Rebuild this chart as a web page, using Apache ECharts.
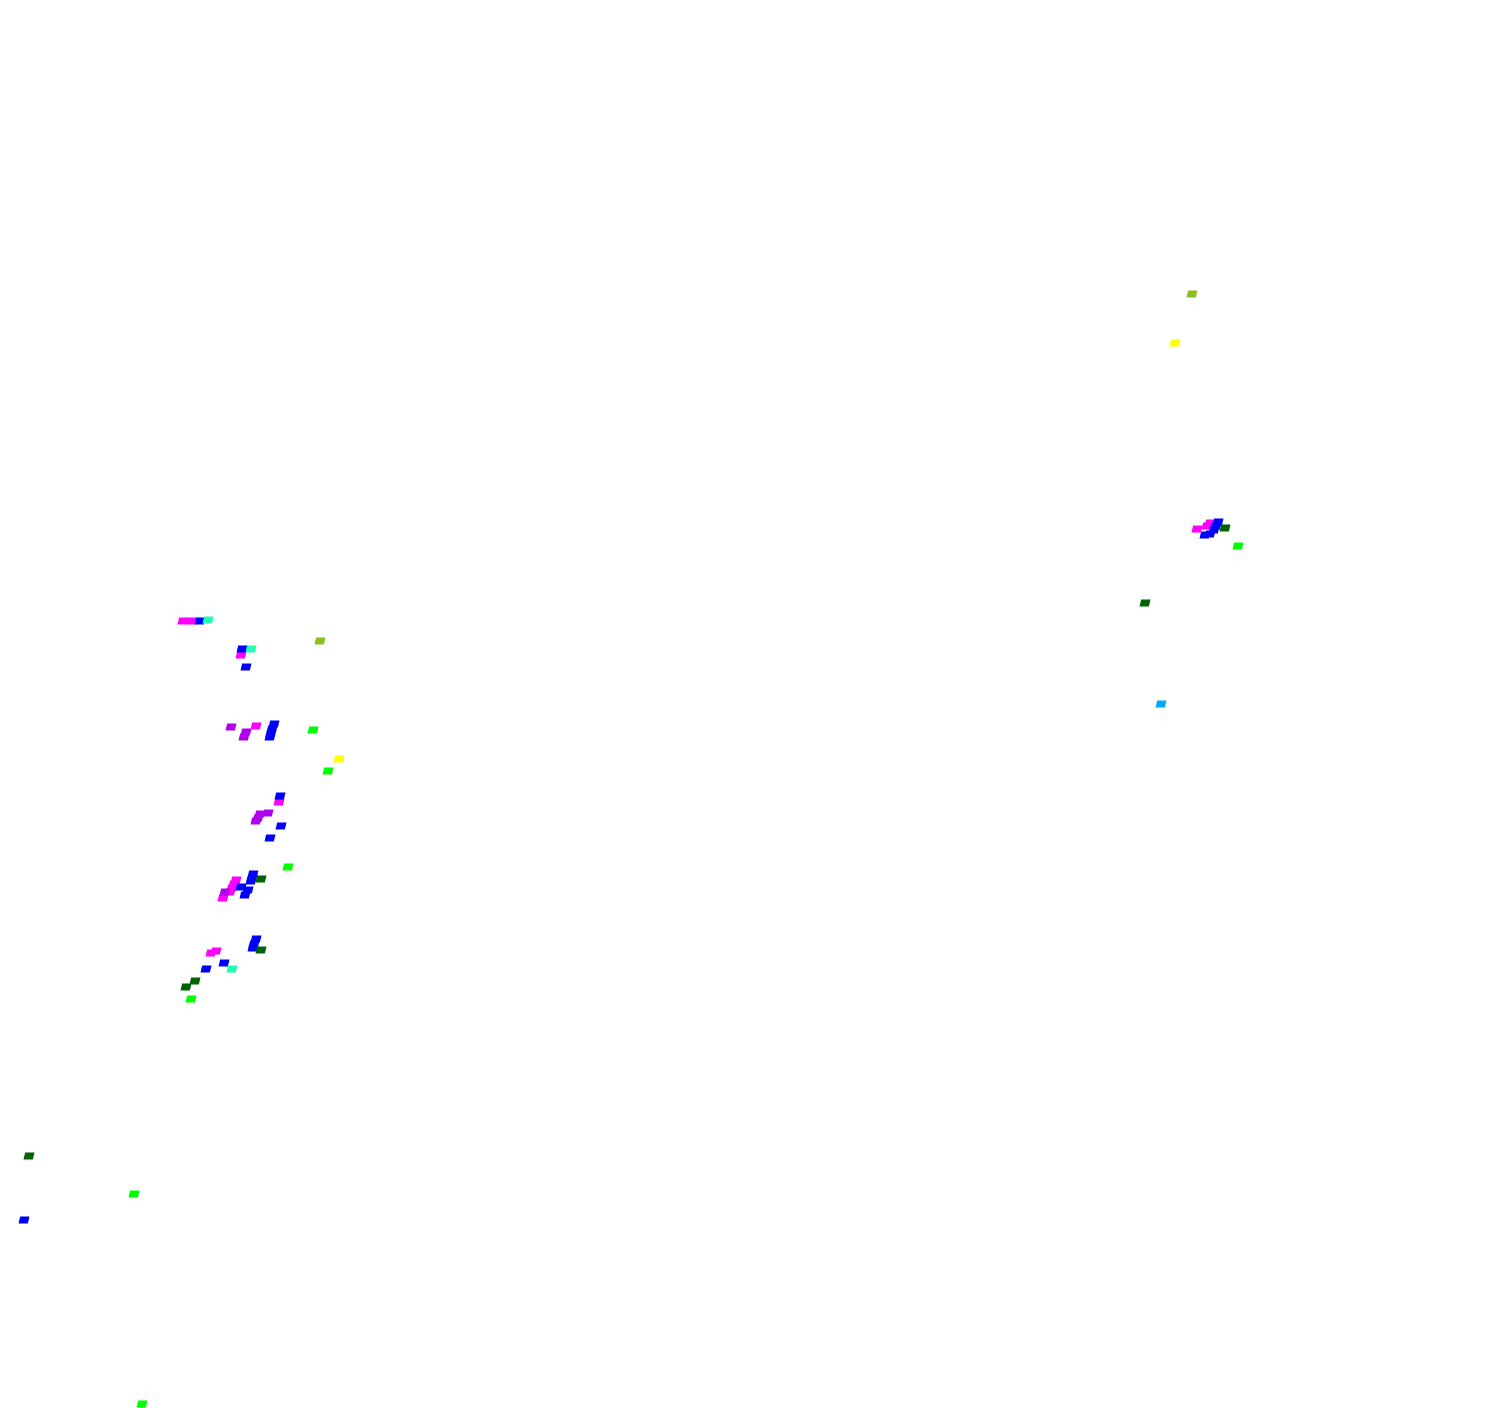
<!DOCTYPE html>
<html>
<head>
<meta charset="utf-8">
<title>Scatter</title>
<script src="https://cdn.jsdelivr.net/npm/echarts@6/dist/echarts.min.js"></script>
<style>
  html, body { margin: 0; padding: 0; background: #ffffff; }
  #chart { width: 1500px; height: 1408px; }
</style>
</head>
<body>
<div id="chart"></div>
<script>
// Point positions, [x, y] in plot units (y grows downwards)
const magentaPoints = [
  [183, 621], [192, 621], [241, 655], [256, 726], [279, 802],
  [236, 880], [234, 884], [232, 888], [230, 892], [223, 898],
  [216, 951], [211, 953],
  [1210, 523], [1207, 526], [1197, 529]
];
const purplePoints = [
  [231, 727], [246, 732], [244, 737],
  [268, 813], [260, 814], [258, 818], [256, 821],
  [225, 892]
];
const bluePoints = [
  [200, 621], [242, 649], [246, 667],
  [274, 724], [272, 729], [271, 733], [270, 737],
  [280, 796], [281, 826], [270, 838],
  [253, 874], [252, 878], [251, 881],
  [241, 887], [248, 890], [245, 895],
  [256, 939], [254, 944], [253, 948],
  [224, 963], [206, 969], [24, 1220],
  [1218, 522], [1216, 526], [1214, 530], [1210, 534], [1205, 535]
];
const darkGreenPoints = [
  [261, 879], [261, 950], [195, 981], [186, 987],
  [29, 1156], [1225, 528], [1145, 603]
];
const aquaPoints = [[208, 620], [251, 649], [232, 969]];
const limePoints = [
  [313, 730], [328, 771], [288, 867], [191, 999],
  [134, 1194], [142, 1404], [1238, 546]
];
const yellowPoints = [[339, 759], [1175, 343]];
const yellowGreenPoints = [[320, 641], [1192, 294]];
const skyBluePoints = [[1161, 704]];

const markShape = 'path://M1.5,0 L10,0 L8.5,6 L0,6 Z';

function makeSeries(name, data, color) {
  return {
    name: name,
    type: 'scatter',
    data: data,
    symbol: markShape,
    symbolSize: [11, 7],
    itemStyle: { color: color, opacity: 1 },
    emphasis: { disabled: true },
    animation: false
  };
}

const chart = echarts.init(document.getElementById('chart'));

chart.setOption({
  backgroundColor: '#ffffff',
  animation: false,
  grid: { left: 0, right: 0, top: 0, bottom: 0 },
  xAxis: { type: 'value', min: 0, max: 1500, show: false },
  yAxis: { type: 'value', min: 0, max: 1408, inverse: true, show: false },
  series: [
    makeSeries('magenta', magentaPoints, '#ff00ff'),
    makeSeries('purple', purplePoints, '#b000ee'),
    makeSeries('blue', bluePoints, '#0000ff'),
    makeSeries('darkgreen', darkGreenPoints, '#006400'),
    makeSeries('aquamarine', aquaPoints, '#20ffb0'),
    makeSeries('lime', limePoints, '#00ff00'),
    makeSeries('yellow', yellowPoints, '#ffff00'),
    makeSeries('yellowgreen', yellowGreenPoints, '#8fbf1f'),
    makeSeries('deepskyblue', skyBluePoints, '#00a8ff')
  ]
});
</script>
</body>
</html>
